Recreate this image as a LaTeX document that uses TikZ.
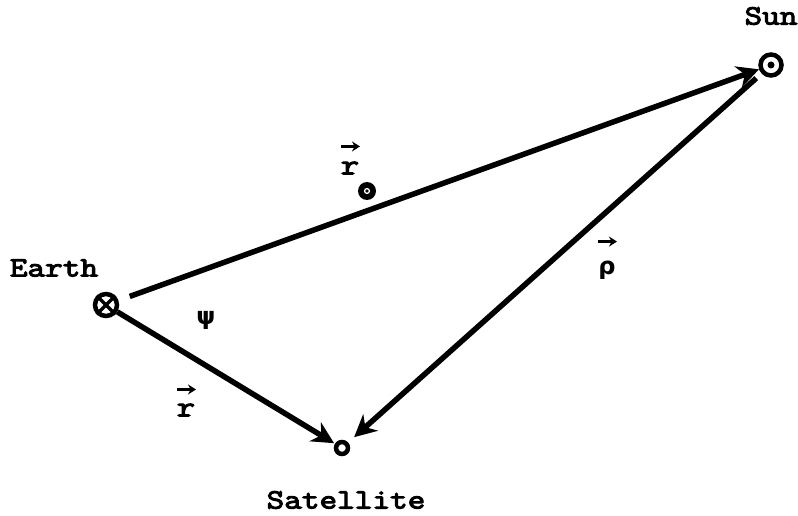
\documentclass[tikz,border=0pt]{standalone}
\usepackage{fontspec}
\newfontfamily\twfont{lmmono10-regular.otf}[FakeBold=3.5,FakeStretch=1.2]
\newfontfamily\gkfont{DejaVu Sans}
\usetikzlibrary{arrows.meta}
\begin{document}
\begin{tikzpicture}[x=1pt,y=-1pt,
  lbl/.style={font=\fontsize{28}{34}\selectfont\twfont, inner sep=0pt},
  vlbl/.style={font=\fontsize{29}{34}\selectfont\twfont, inner sep=0pt},
  glbl/.style={font=\fontsize{24}{28}\selectfont\gkfont\bfseries, inner sep=0pt},
  vec/.style={line width=5.5pt, -{Stealth[length=22pt,width=22pt,inset=7pt]}},
  ovarrow/.style={line width=2.8pt, -{Stealth[length=8pt,width=10pt]}},
  body/.style={circle, draw, line width=4.5pt, inner sep=0pt}]
\useasboundingbox (0,0) rectangle (798,516);
% bodies
\node[body, minimum size=22pt] (earth) at (106,305) {};
\draw[line width=3.5pt] (earth.north east) -- (earth.south west);
\draw[line width=3.5pt] (earth.north west) -- (earth.south east);
\node[body, minimum size=21pt] (sun) at (771,65) {};
\fill (sun.center) circle (3.5pt);
\node[body, minimum size=12pt] (sat) at (342,448) {};
% names
\node[lbl] (tsun) at (771,16) {Sun};
\node[lbl] (tearth) at (54,268) {Earth};
\node[lbl] (tsat) at (346,500) {Satellite};
% vectors
\draw[vec, shorten <=12pt] (earth) -- (sun);
\draw[vec, shorten <=7pt, shorten >=8pt] (sun) -- (sat);
\draw[vec, shorten >=1pt] (earth) -- (sat);
% vector labels
\node[vlbl] (lrs) at (350,168) {r};
\draw[ovarrow] ([xshift=-9pt,yshift=15pt]lrs.north) -- ++(19pt,0);
\node[circle, fill=black, minimum size=18pt, inner sep=0pt] (odot) at (367,191) {};
\draw[white, line width=1.3pt] (odot.center) circle (2.4pt);
\node[glbl] (lrho) at (607,270) {ρ};
\draw[ovarrow] ([xshift=-9pt,yshift=19pt]lrho.north) -- ++(19pt,0);
\node[vlbl] (lr) at (186,410) {r};
\draw[ovarrow] ([xshift=-9pt,yshift=14pt]lr.north) -- ++(19pt,0);
\node[glbl] (lpsi) at (206,320) {ψ};
\end{tikzpicture}
\end{document}
